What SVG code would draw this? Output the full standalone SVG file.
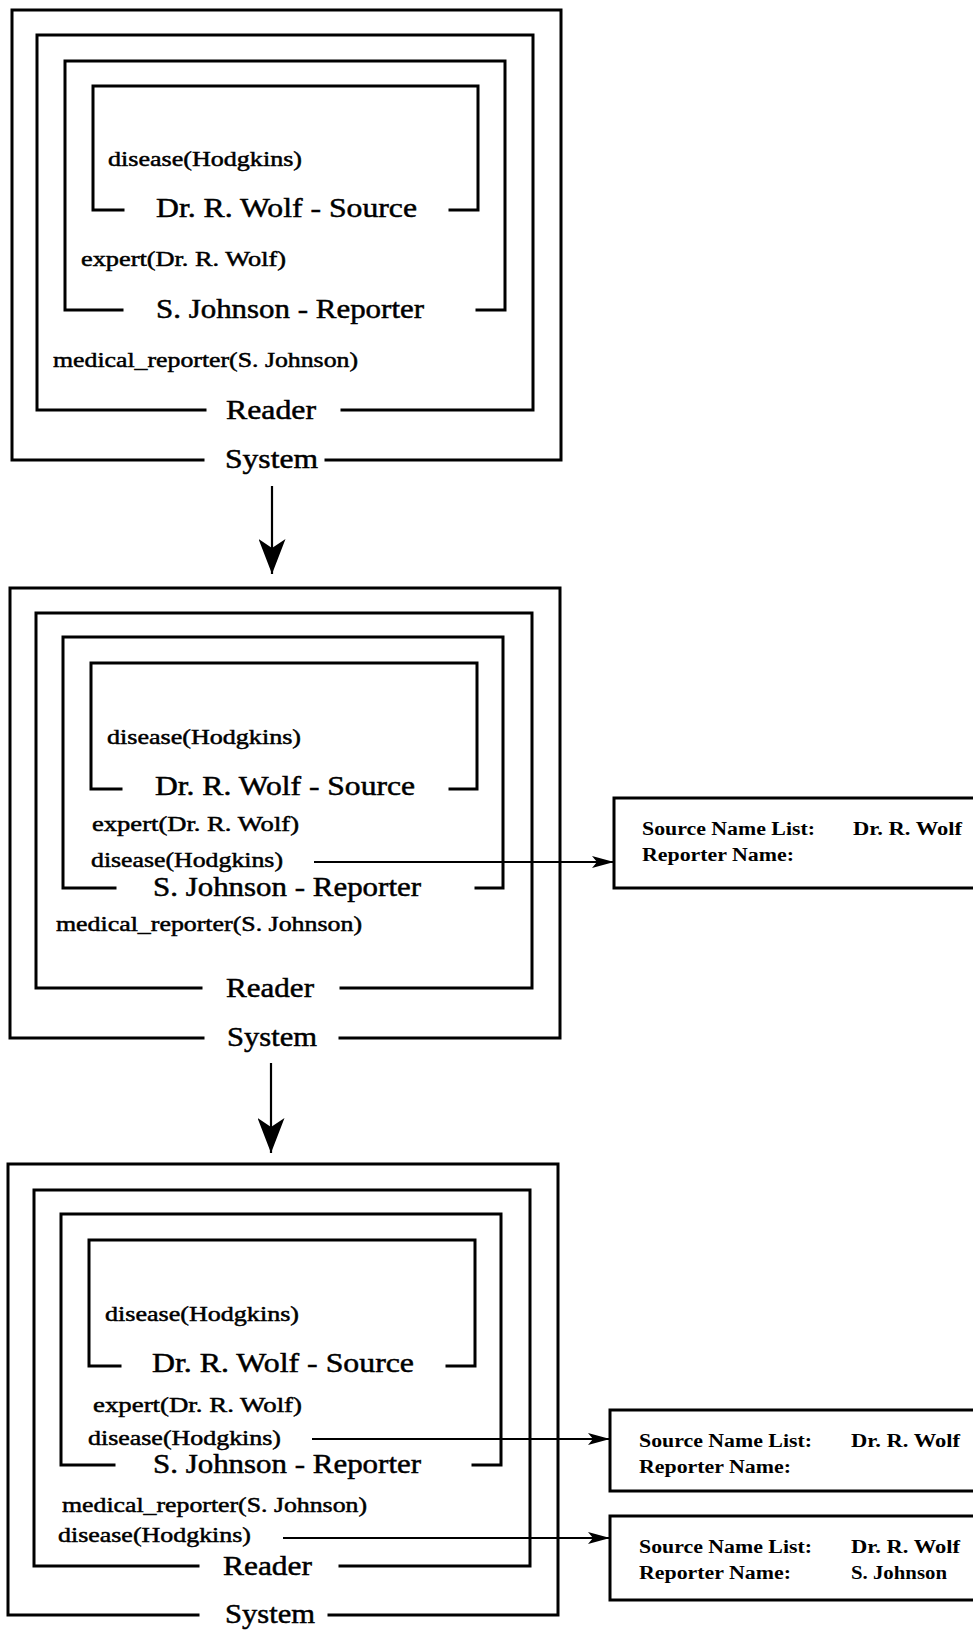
<svg xmlns="http://www.w3.org/2000/svg" width="973" height="1631" viewBox="0 0 973 1631">
<defs>
<style>
.frame{fill:none;stroke:#000;stroke-width:3;stroke-linecap:square;stroke-linejoin:miter}
.box{fill:#fff;stroke:#000;stroke-width:3}
.conn{fill:none;stroke:#000;stroke-width:2.2}
.lbl{font-family:"Liberation Serif","Times New Roman",serif;font-size:28px;fill:#000;stroke:#000;stroke-width:0.5}
.fact{font-family:"Liberation Serif","Times New Roman",serif;font-size:22px;fill:#000;stroke:#000;stroke-width:0.5}
.info{font-family:"Liberation Serif","Times New Roman",serif;font-size:18px;font-weight:bold;fill:#000}
</style>
<marker id="hs" viewBox="0 0 22 12" refX="22" refY="6" markerWidth="22" markerHeight="12" markerUnits="userSpaceOnUse" orient="auto">
<path d="M0,0 L22,6 L0,12 L5,6 Z" fill="#000"/>
</marker>
<marker id="hb" viewBox="0 0 35 27" refX="35" refY="13.5" markerWidth="35" markerHeight="27" markerUnits="userSpaceOnUse" orient="auto">
<path d="M0,0 L35,13.5 L0,27 L9,13.5 Z" fill="#000"/>
</marker>
</defs>
<rect width="973" height="1631" fill="#fff"/>

<!-- Diagram 1 -->
<g id="d1-system">
<path class="frame" d="M203,460 H12 V10 H561 V460 H326"/>
<text class="lbl" x="225" y="468" textLength="93" lengthAdjust="spacingAndGlyphs">System</text>
</g>
<g id="d1-reader">
<path class="frame" d="M205,410 H37 V35 H533 V410 H342"/>
<text class="lbl" x="226" y="419" textLength="90" lengthAdjust="spacingAndGlyphs">Reader</text>
<text class="fact" x="53" y="367" textLength="305" lengthAdjust="spacingAndGlyphs">medical_reporter(S. Johnson)</text>
</g>
<g id="d1-reporter">
<path class="frame" d="M122,310 H65 V61 H505 V310 H477"/>
<text class="lbl" x="156" y="318" textLength="268" lengthAdjust="spacingAndGlyphs">S. Johnson - Reporter</text>
<text class="fact" x="81" y="266" textLength="205" lengthAdjust="spacingAndGlyphs">expert(Dr. R. Wolf)</text>
</g>
<g id="d1-source">
<path class="frame" d="M123,210 H93 V86 H478 V210 H450"/>
<text class="lbl" x="156" y="217" textLength="261" lengthAdjust="spacingAndGlyphs">Dr. R. Wolf - Source</text>
<text class="fact" x="108" y="166" textLength="194" lengthAdjust="spacingAndGlyphs">disease(Hodgkins)</text>
</g>

<!-- Diagram 2 -->
<g id="d2-system">
<path class="frame" d="M203,1038 H10 V588 H560 V1038 H340"/>
<text class="lbl" x="227" y="1046" textLength="90" lengthAdjust="spacingAndGlyphs">System</text>
</g>
<g id="d2-reader">
<path class="frame" d="M201,988 H36 V613 H532 V988 H341"/>
<text class="lbl" x="226" y="997" textLength="88" lengthAdjust="spacingAndGlyphs">Reader</text>
<text class="fact" x="56" y="931" textLength="306" lengthAdjust="spacingAndGlyphs">medical_reporter(S. Johnson)</text>
</g>
<g id="d2-reporter">
<path class="frame" d="M115,888 H63 V637 H503 V888 H476"/>
<text class="lbl" x="153" y="896" textLength="268" lengthAdjust="spacingAndGlyphs">S. Johnson - Reporter</text>
<text class="fact" x="92" y="831" textLength="207" lengthAdjust="spacingAndGlyphs">expert(Dr. R. Wolf)</text>
<text class="fact" x="91" y="867" textLength="192" lengthAdjust="spacingAndGlyphs">disease(Hodgkins)</text>
</g>
<g id="d2-source">
<path class="frame" d="M121,789 H91 V663 H477 V789 H450"/>
<text class="lbl" x="155" y="795" textLength="260" lengthAdjust="spacingAndGlyphs">Dr. R. Wolf - Source</text>
<text class="fact" x="107" y="744" textLength="194" lengthAdjust="spacingAndGlyphs">disease(Hodgkins)</text>
</g>
<g id="d2-record">
<rect class="box" x="614" y="798" width="420" height="90"/>
<text class="info" x="642" y="835" textLength="173" lengthAdjust="spacingAndGlyphs">Source Name List:</text>
<text class="info" x="853" y="835" textLength="109" lengthAdjust="spacingAndGlyphs">Dr. R. Wolf</text>
<text class="info" x="642" y="861" textLength="152" lengthAdjust="spacingAndGlyphs">Reporter Name:</text>
</g>

<!-- Diagram 3 -->
<g id="d3-system">
<path class="frame" d="M198,1615 H8 V1164 H558 V1615 H329"/>
<text class="lbl" x="225" y="1623" textLength="90" lengthAdjust="spacingAndGlyphs">System</text>
</g>
<g id="d3-reader">
<path class="frame" d="M198,1566 H34 V1190 H530 V1566 H340"/>
<text class="lbl" x="223" y="1575" textLength="89" lengthAdjust="spacingAndGlyphs">Reader</text>
<text class="fact" x="62" y="1512" textLength="305" lengthAdjust="spacingAndGlyphs">medical_reporter(S. Johnson)</text>
<text class="fact" x="58" y="1542" textLength="193" lengthAdjust="spacingAndGlyphs">disease(Hodgkins)</text>
</g>
<g id="d3-reporter">
<path class="frame" d="M114,1465 H61 V1214 H501 V1465 H473"/>
<text class="lbl" x="153" y="1473" textLength="268" lengthAdjust="spacingAndGlyphs">S. Johnson - Reporter</text>
<text class="fact" x="93" y="1412" textLength="209" lengthAdjust="spacingAndGlyphs">expert(Dr. R. Wolf)</text>
<text class="fact" x="88" y="1445" textLength="193" lengthAdjust="spacingAndGlyphs">disease(Hodgkins)</text>
</g>
<g id="d3-source">
<path class="frame" d="M120,1366 H89 V1240 H475 V1366 H447"/>
<text class="lbl" x="152" y="1372" textLength="262" lengthAdjust="spacingAndGlyphs">Dr. R. Wolf - Source</text>
<text class="fact" x="105" y="1321" textLength="194" lengthAdjust="spacingAndGlyphs">disease(Hodgkins)</text>
</g>
<g id="d3-record1">
<rect class="box" x="610" y="1410" width="420" height="81"/>
<text class="info" x="639" y="1447" textLength="173" lengthAdjust="spacingAndGlyphs">Source Name List:</text>
<text class="info" x="851" y="1447" textLength="109" lengthAdjust="spacingAndGlyphs">Dr. R. Wolf</text>
<text class="info" x="639" y="1473" textLength="152" lengthAdjust="spacingAndGlyphs">Reporter Name:</text>
</g>
<g id="d3-record2">
<rect class="box" x="610" y="1516" width="420" height="84"/>
<text class="info" x="639" y="1553" textLength="173" lengthAdjust="spacingAndGlyphs">Source Name List:</text>
<text class="info" x="851" y="1553" textLength="109" lengthAdjust="spacingAndGlyphs">Dr. R. Wolf</text>
<text class="info" x="639" y="1579" textLength="152" lengthAdjust="spacingAndGlyphs">Reporter Name:</text>
<text class="info" x="851" y="1579" textLength="96" lengthAdjust="spacingAndGlyphs">S. Johnson</text>
</g>

<!-- Connectors -->
<g id="connectors">
<path class="conn" d="M272,486 V574" marker-end="url(#hb)"/>
<path class="conn" d="M271,1063 V1153" marker-end="url(#hb)"/>
<path class="conn" d="M314,862 H614" marker-end="url(#hs)"/>
<path class="conn" d="M312,1439 H610" marker-end="url(#hs)"/>
<path class="conn" d="M283,1538 H610" marker-end="url(#hs)"/>
</g>
</svg>
